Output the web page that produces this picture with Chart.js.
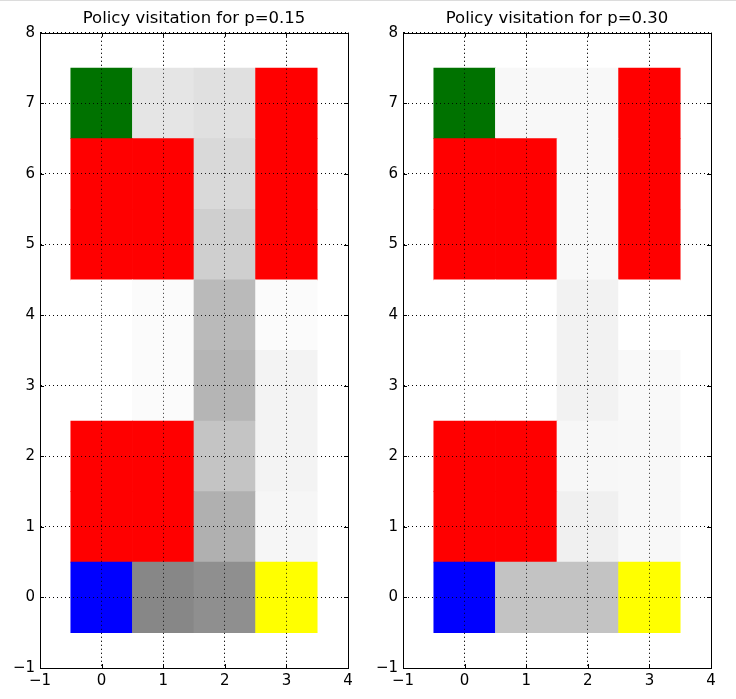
<!DOCTYPE html>
<html>
<head>
<meta charset="utf-8">
<script src="https://cdn.jsdelivr.net/npm/chart.js@4/dist/chart.umd.min.js"></script>
<style>
  html, body { margin: 0; padding: 0; background: #fff; }
  body { width: 736px; height: 699px; position: relative; overflow: hidden; border-top: 1px solid #dcdcdc; box-sizing: border-box; }
  .plot { position: absolute; top: 0; width: 368px; height: 698px; }
</style>
</head>
<body>
<div class="plot" style="left:0"><canvas id="left"></canvas></div>
<div class="plot" style="left:363px"><canvas id="right"></canvas></div>
<script>
// grid columns (x) and rows (y)
const columns = [0, 1, 2, 3];
const rows = [7, 6, 5, 4, 3, 2, 1, 0];   // same order as the grids below (top row first)

// tick labels
const xTicks = [-1, 0, 1, 2, 3, 4];
const yTicks = [-1, 0, 1, 2, 3, 4, 5, 6, 7, 8];

// cell contents: 'goal' / 'wall' / 'start' / 'end', otherwise grey level of visitation (255 = never)
const visitP015 = [
    ['goal', 229, 224, 'wall'],
    ['wall', 'wall', 217, 'wall'],
    ['wall', 'wall', 207, 'wall'],
    [255, 251, 186, 251],
    [255, 251, 181, 243],
    ['wall', 'wall', 196, 243],
    ['wall', 'wall', 176, 246],
    ['start', 135, 143, 'end']
];

const visitP030 = [
    ['goal', 248, 248, 'wall'],
    ['wall', 'wall', 248, 'wall'],
    ['wall', 'wall', 248, 'wall'],
    [255, 255, 242, 255],
    [255, 255, 242, 249],
    ['wall', 'wall', 247, 248],
    ['wall', 'wall', 240, 248],
    ['start', 195, 195, 'end']
];

const titles = ['Policy visitation for p=0.15', 'Policy visitation for p=0.30'];

const specialColors = {
    goal: '#007200',
    wall: '#ff0000',
    start: '#0000ff',
    end: '#ffff00'
};

function cellColor(v) {
    if (typeof v === 'string') return specialColors[v];
    return `rgb(${v}, ${v}, ${v})`;
}

// turn a grid into floating bars, one per cell
function buildCells(grid) {
    let points = [];
    let colors = [];
    grid.forEach((line, r) => {
        line.forEach((v, c) => {
            points.push({ x: columns[c], y: [rows[r] - 0.5, rows[r] + 0.5] });
            colors.push(cellColor(v));
        });
    });
    return { points, colors };
}

// grid on top of the image, box and inward ticks like matplotlib
const frameOnTop = {
    id: 'frameOnTop',
    afterDatasetsDraw(chart) {
        const { ctx, chartArea: a, scales } = chart;
        scales.x.drawGrid(a);
        scales.y.drawGrid(a);
        ctx.save();
        ctx.strokeStyle = '#000';
        ctx.lineWidth = 1;
        ctx.beginPath();
        xTicks.forEach(t => {
            const px = Math.round(scales.x.getPixelForValue(t)) + 0.5;
            ctx.moveTo(px, a.top); ctx.lineTo(px, a.top + 4);
            ctx.moveTo(px, a.bottom); ctx.lineTo(px, a.bottom - 4);
        });
        yTicks.forEach(t => {
            const py = Math.round(scales.y.getPixelForValue(t)) + 0.5;
            ctx.moveTo(a.left, py); ctx.lineTo(a.left + 4, py);
            ctx.moveTo(a.right, py); ctx.lineTo(a.right - 4, py);
        });
        ctx.stroke();
        ctx.strokeRect(Math.round(a.left) + 0.5, Math.round(a.top) + 0.5,
            Math.round(a.right - a.left), Math.round(a.bottom - a.top));
        ctx.restore();
    }
};

function tickLabel(v) {
    return v < 0 ? '\u2212' + Math.abs(v) : String(v);
}

Chart.defaults.font.family = 'DejaVu Sans';
Chart.defaults.font.size = 15;
Chart.defaults.color = '#000';

function createChart(name, title, grid) {
    let cntx = document.getElementById(name).getContext('2d');
    let cells = buildCells(grid);

    let gridStyle = {
        color: 'rgba(0, 0, 0, 0.85)',
        lineWidth: 1,
        drawTicks: false,
        offset: false
    };

    return new Chart(cntx, {
        type: 'bar',
        data: {
            datasets: [{
                data: cells.points,
                backgroundColor: cells.colors,
                borderWidth: 0,
                barPercentage: 1,
                categoryPercentage: 1
            }]
        },
        options: {
            responsive: true,
            maintainAspectRatio: false,
            animation: false,
            events: [],
            layout: { padding: { top: 0, right: 20, bottom: 0, left: 0 } },
            plugins: {
                legend: { display: false },
                tooltip: { enabled: false },
                title: {
                    display: true,
                    fullSize: false,
                    text: title,
                    font: { size: 16.5, weight: 'normal' },
                    color: '#000',
                    padding: { top: 8, bottom: 4 }
                }
            },
            scales: {
                x: {
                    type: 'linear',
                    min: -1,
                    max: 4,
                    offset: false,
                    afterFit: s => { s.height = 31; },
                    afterBuildTicks: s => { s.ticks = xTicks.map(v => ({ value: v })); },
                    ticks: { padding: 4, callback: tickLabel, maxRotation: 0, autoSkip: false },
                    grid: Object.assign({ borderDash: [1, 3] }, gridStyle),
                    border: { display: true, color: '#000', dash: [1, 3] }
                },
                y: {
                    type: 'linear',
                    min: -1,
                    max: 8,
                    afterFit: s => { s.width = 40; },
                    afterBuildTicks: s => { s.ticks = yTicks.map(v => ({ value: v })); },
                    ticks: { padding: 5, callback: tickLabel, autoSkip: false },
                    grid: gridStyle,
                    border: { display: true, color: '#000', dash: [1, 3] }
                }
            }
        },
        plugins: [frameOnTop]
    });
}

createChart('left', titles[0], visitP015);
createChart('right', titles[1], visitP030);
</script>
</body>
</html>
